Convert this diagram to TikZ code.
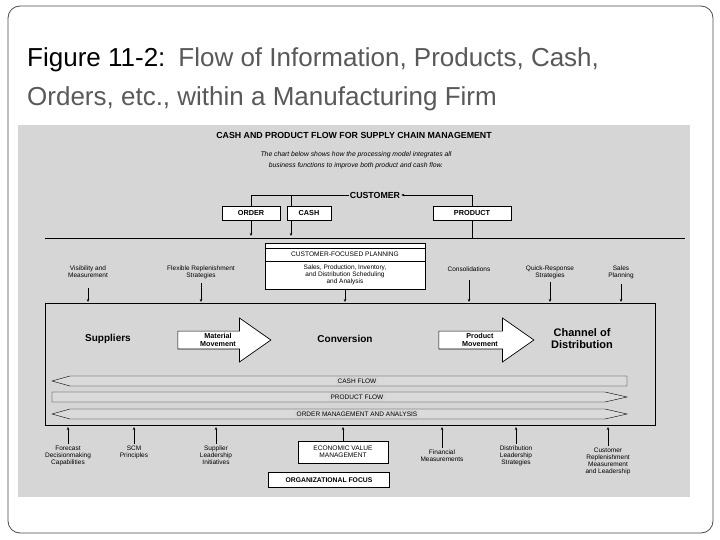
\documentclass[tikz,border=0pt]{standalone}
\usepackage{fontspec}
\setmainfont{Liberation Sans}
\usetikzlibrary{shapes.arrows,arrows.meta}
\definecolor{scan}{HTML}{D6D6D6}
\definecolor{ttl}{HTML}{595959}
\begin{document}
\begin{tikzpicture}[x=1pt,y=-1pt,
  lab/.style={font=\fontsize{6.5}{7}\selectfont,align=center,inner sep=0pt},
  bx/.style={draw,fill=white,line width=0.8pt,font=\bfseries\fontsize{7.3}{8}\selectfont,inner sep=2pt,minimum height=14pt},
  arr/.style={-{Stealth[length=3pt,width=2.5pt]},line width=0.5pt},
  big/.style={font=\bfseries\fontsize{11}{12}\selectfont,align=center,inner sep=0pt},
  fat/.style={single arrow,draw,fill=white,line width=0.7pt,minimum height=93pt,minimum width=44pt,single arrow head extend=10pt,single arrow tip angle=70,inner sep=0pt,font=\bfseries\fontsize{7.2}{7.6}\selectfont,align=center,text width=44pt}]
\useasboundingbox (0,0) rectangle (720,540);
\fill[white] (0,0) rectangle (720,540);
\draw[black!70,line width=0.8pt,rounded corners=12pt] (8,6) rectangle (713,533);
\node[anchor=base west,font=\fontsize{26}{28}\selectfont,text=ttl,inner sep=0pt] (t1) at (27,67) {\textcolor{black}{Figure 11-2:}\enspace Flow of Information, Products, Cash,};
\node[anchor=base west,font=\fontsize{26}{28}\selectfont,text=ttl,inner sep=0pt] (t2) at (27,106) {Orders, etc., within a Manufacturing Firm};
\fill[scan] (18,125) rectangle (690,497);
\node[font=\bfseries\fontsize{8.8}{9}\selectfont] (head) at (354,135) {CASH AND PRODUCT FLOW FOR SUPPLY CHAIN MANAGEMENT};
\node[lab,font=\itshape\fontsize{6.8}{11.5}\selectfont] (sub) at (356,160) {The chart below shows how the processing model integrates all\\business functions to improve both product and cash flow.};
\node[font=\bfseries\fontsize{8.8}{9}\selectfont,inner sep=1pt] (cust) at (375,195) {CUSTOMER};
\node[bx,minimum width=58pt] (order) at (251,213) {ORDER};
\node[bx,minimum width=44pt] (cash) at (309,213) {CASH};
\node[bx,minimum width=78pt] (prod) at (472,213) {PRODUCT};
\coordinate (o1) at (251,195); \coordinate (c1) at (291,195);
\draw (cust.west) -- (o1) -- (order.north);
\draw (c1) -- (c1|-cash.north);
\draw[arr] (472,206) |- (cust.east);
\coordinate (hl) at (45,238); \coordinate (hr) at (685,238);
\draw[line width=0.7pt] (hl) -- (hr);
\draw[arr] (order.south) -- (251,236);
\draw[arr] (c1|-cash.south) -- (291,236);
\draw (prod.south) -- (472,238);
\draw[fill=white,line width=0.8pt] (265,243) rectangle (425,289);
\draw (265,248) -- (425,248); \draw (265,261) -- (425,261);
\node[lab,font=\fontsize{6.6}{7}\selectfont] (cfp) at (345,254.5) {CUSTOMER-FOCUSED PLANNING};
\node[lab] (spi) at (345,274.5) {Sales, Production, Inventory,\\and Distribution Scheduling\\and Analysis};
\node[lab] (vis) at (88,272) {Visibility and\\Measurement};
\node[lab] (flex) at (201,272) {Flexible Replenishment\\Strategies};
\node[lab] (cons) at (469,269) {Consolidations};
\node[lab] (qrs) at (550,272) {Quick-Response\\Strategies};
\node[lab] (sp) at (621,272) {Sales\\Planning};
\foreach \x/\y in {88/288,201/283,345/289,469/280,550/282,621/284} \draw[arr] (\x,\y) -- (\x,302);
\draw[line width=0.9pt] (45,303) rectangle (655,425);
\node[big,font=\bfseries\fontsize{10}{11}\selectfont] (supp) at (108,339) {Suppliers};
\node[big,font=\bfseries\fontsize{10}{11}\selectfont] (conv) at (345,339) {Conversion};
\node[big] (chan) at (582,339) {Channel of\\Distribution};
\node[fat] (mm) at (218,340) {Material\\Movement\hspace*{16pt}};
\node[fat,minimum height=95pt] (pm) at (480,340) {Product\\Movement\hspace*{16pt}};
\draw[fill=scan!90!white,line width=0.4pt] (70,376) -- (627,376) -- (627,386) -- (70,386) -- (52,381) -- cycle;
\draw[fill=scan!90!white,line width=0.4pt] (52,392) -- (605,392) -- (627,397) -- (605,402) -- (52,402) -- cycle;
\draw[fill=scan!90!white,line width=0.4pt] (70,409) -- (605,409) -- (627,414) -- (605,419) -- (70,419) -- (52,414) -- cycle;
\node[lab,fill=scan,inner sep=1.5pt] (cf) at (357,381) {CASH FLOW};
\node[lab,fill=scan,inner sep=1.5pt] (pf) at (357,397) {PRODUCT FLOW};
\node[lab,fill=scan,inner sep=1.5pt] (om) at (357,414) {ORDER MANAGEMENT AND ANALYSIS};
\node[lab,anchor=north] (fc) at (68,446) {Forecast\\Decisionmaking\\Capabilities};
\node[lab,anchor=north] (scm) at (134,446) {SCM\\Principles};
\node[lab,anchor=north] (sl) at (216,446) {Supplier\\Leadership\\Initiatives};
\node[bx,font=\fontsize{6.6}{7.2}\selectfont,align=center,minimum width=90pt,minimum height=22pt] (evm) at (343,452) {ECONOMIC VALUE\\MANAGEMENT};
\node[lab,anchor=north] (fm) at (442,450) {Financial\\Measurements};
\node[lab,anchor=north] (dl) at (516,446) {Distribution\\Leadership\\Strategies};
\node[lab,anchor=north] (cr) at (608,448) {Customer\\Replenishment\\Measurement\\and Leadership};
\node[bx,font=\bfseries\fontsize{6.8}{7}\selectfont,minimum width=121pt,minimum height=15pt] (of) at (329,480) {ORGANIZATIONAL FOCUS};
\foreach \x/\n in {68/fc,134/scm,216/sl,442/fm,516/dl,608/cr} \draw[arr] (\n.north-|{(\x,0)}) ++(0,-2) -- (\x,427);
\draw[arr] (evm.north) -- (343,427);
\end{tikzpicture}
\end{document}
